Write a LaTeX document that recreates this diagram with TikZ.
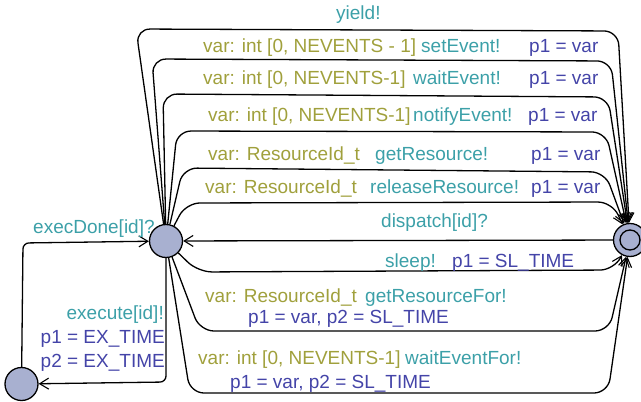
\documentclass[tikz,border=0pt]{standalone}
\usepackage{fontspec}
\setmainfont{Liberation Sans}
\usetikzlibrary{arrows.meta}
\definecolor{selc}{RGB}{160,160,60}
\definecolor{syncc}{RGB}{60,160,168}
\definecolor{asgc}{RGB}{68,68,168}
\definecolor{locfill}{RGB}{168,176,208}
\begin{document}
\begin{tikzpicture}[x=1pt,y=-1pt,
  loc/.style={circle,draw,line width=1.3pt,fill=locfill,minimum size=33pt,inner sep=0pt},
  edge/.style={draw,line width=1.3pt,-{Straight Barb[length=9pt,width=11pt,line width=1.1pt]}},
  lbl/.style={anchor=base west,inner sep=0pt,font=\fontsize{19}{23}\selectfont},
  lblr/.style={anchor=base east,inner sep=0pt,font=\fontsize{19}{23}\selectfont},
  sel/.style={text=selc},
  syn/.style={text=syncc},
  asg/.style={text=asgc}]
\useasboundingbox (0,0) rectangle (641,402);

% locations
\node[loc] (L) at (166,241) {};
\node[loc] (B) at (21.5,384) {};
\node[loc] (R) at (630,240) {};
\draw[line width=1.3pt] (R.center) circle[radius=10pt];

% top edges L -> R
\draw[edge,rounded corners=14pt] (L) -- (136,29) -- (618,31) -- (R);
\draw[edge,rounded corners=14pt] (L) -- (152,59) -- (611,61) -- (R);
\draw[edge,rounded corners=14pt] (L) -- (163,94) -- (608,97) -- (R);
\draw[edge,rounded corners=14pt] (L) -- (177,131) -- (606,132) -- (R);
\draw[edge,rounded corners=14pt] (L) -- (183,168) -- (605,172) -- (R);
\draw[edge,rounded corners=14pt] (L) -- (186,203) -- (612,202) -- (R);

% dispatch R -> L
\draw[edge] (R) -- (L);

% bottom edges L -> R
\draw[edge,rounded corners=14pt] (L) -- (198,272) -- (614,270) -- (R);
\draw[edge,rounded corners=14pt] (L) -- (200,331) -- (609,331) -- (R);
\draw[edge,rounded corners=14pt] (L) -- (190,393) -- (608,393) -- (R);

% left edges
\draw[edge,rounded corners=6pt] (B) -- (23,243) -- (L);
\draw[edge,rounded corners=6pt] (L) -- (166,382) -- (B);

% labels
\node[lbl,syn] (t1) at (336,19) {yield!};

\node[lbl,sel] (t2a) at (203,52) {var: int [0, NEVENTS - 1]};
\node[lbl,syn] (t2b) at (421,52) {setEvent!};
\node[lbl,asg] (t2c) at (529,52) {p1 = var};

\node[lbl,sel] (t3a) at (203,84) {var: int [0, NEVENTS-1]};
\node[lbl,syn] (t3b) at (413,84) {waitEvent!};
\node[lbl,asg] (t3c) at (529,84) {p1 = var};

\node[lbl,sel] (t4a) at (208,121) {var: int [0, NEVENTS-1]};
\node[lbl,syn] (t4b) at (413,121) {notifyEvent!};
\node[lbl,asg] (t4c) at (528,121) {p1 = var};

\node[lbl,sel] (t5a) at (208,160) {var: ResourceId\_t};
\node[lbl,syn] (t5b) at (375,160) {getResource!};
\node[lbl,asg] (t5c) at (531,160) {p1 = var};

\node[lbl,sel] (t6a) at (205,193) {var: ResourceId\_t};
\node[lbl,syn] (t6b) at (370,193) {releaseResource!};
\node[lbl,asg] (t6c) at (531,193) {p1 = var};

\node[lbl,syn] (t7) at (381,227) {dispatch[id]?};

\node[lbl,syn] (t8a) at (385,267) {sleep!};
\node[lbl,asg] (t8b) at (452,267) {p1 = SL\_TIME};

\node[lbl,sel] (t9a) at (205,302) {var: ResourceId\_t};
\node[lbl,syn] (t9b) at (365,302) {getResourceFor!};
\node[lbl,asg] (t9c) at (248,323) {p1 = var, p2 = SL\_TIME};

\node[lbl,sel] (t10a) at (198,364) {var: int [0, NEVENTS-1]};
\node[lbl,syn] (t10b) at (405,364) {waitEventFor!};
\node[lbl,asg] (t10c) at (230,388) {p1 = var, p2 = SL\_TIME};

\node[lbl,syn] (t11) at (33,233) {execDone[id]?};

\node[lblr,syn] (t12a) at (164,319) {execute[id]!};
\node[lblr,asg] (t12b) at (165,343) {p1 = EX\_TIME};
\node[lblr,asg] (t12c) at (165,367) {p2 = EX\_TIME};
\end{tikzpicture}
\end{document}
